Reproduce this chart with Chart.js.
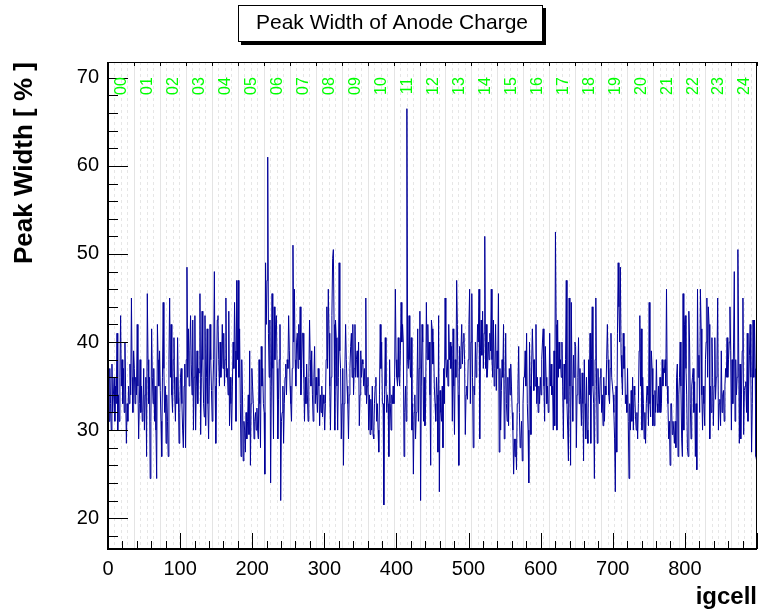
<!DOCTYPE html>
<html>
<head>
<meta charset="utf-8">
<script src="https://cdn.jsdelivr.net/npm/chart.js@4.4.1/dist/chart.umd.min.js"></script>
<style>
html,body{margin:0;padding:0;background:#fff;}
#c{display:block;}
</style>
</head>
<body>
<canvas id="c" width="763" height="611"></canvas>
<script>
// ---- data: peak width [%] per igcell ----
const pw000 = [36,31,37,33,30,37.5,32,34,36,31,35,33,41,30,34,31,36,43,35,38,33,37,32,40,34,28.5,33,31,35,33,37.5,34,45,36,32,39,37,33,36,34,42,35,29,33,38,32,35,31,32,37,30,34,36,27,45.5,38,33,36,24.5,31,41.5,36,33,37,31,35,30,24.5,42,38,35,39,34.5,31,27,36,44.5,37,32,35,28.5,34,31,27,38,45,36,42,34,32];
const pw090 = [38,40.5,34,31,36,33,40.5,35,28.5,32,36,37,33,30,28,35,37.5,28,38,48.5,36,41.5,35,39,43,37.5,34,42.5,30,36,43,30,35,39,33,37,36.5,45.5,29.5,36,43.5,38,33,31.5,43,30.5,36,41.5,33,29,35,42,38,34.5,31,34.5,38,48,35,28.5,36,42.5,43,38,35,40,36,37.5,42,37,41,35,38,45,36,37,34,43.5,30.5,36,33,30,35,40,37,44.5,39,31,47,38];
const pw180 = [47,36,41.5,33,27,38,34,26.5,31,30,27.5,32,29,31,34,29.5,39,26,33,37,35,33,29,31,32,30,32.5,30,29,38,33,28,39.5,35,37,33,32,25,49,42,47,61,41,36,42.5,24,35,45.5,37,29,44,38,42,43,37,29,33.5,38,42,22,31,32,35,28.5,33,36,37.5,34,38,37,43,39,35,33,31,37,51,40,46,38,35,40,41,37,42,38,44,34,37,41];
const pw270 = [41,36,31,36,33,37.5,34,31,36,42.5,38,35,39,34,31,36,39.5,33,36,34,32,37,35,30.5,34,32,35,31.5,34,33,30,33,38,44,37,46,41,35,30,36,43,49.5,50.5,42,30,42.5,40.5,35,30,36,49,39,37,29,33,37,26,33,37,42,38,35,33,29,34,37,39.5,41,36,42,34,37,42,36,38,39,36,40,30.5,34,39,36,38,37.5,35,37,34,45,33,35];
const pw360 = [36,30,34,29.5,33.5,30,35,29.5,29,33,35,36,31,33,30,27.5,34,42,37,40,33,33,21.5,34,40.5,35,32,34,33,27,38,33,30,34,33,35,33,36,46,38,36,35,40.5,36,35,39,44.5,40,42,40,27,32,35,31,66.5,38,37,43,38,36,40.5,30,33,25,32,34,29,32,35,41.5,31,37,43.5,22,35,42,40,31,36,30.5,33,44.5,38,42,38,40,34,26,42.5,41.5];
const pw450 = [37.5,40,35,33,31,36,34,27.5,43,23,34.5,32,31,35,28,37,33,45,38,36,38,35,42,38,40,37,39.5,31,41.5,35,29.5,38,36,47,42,34,26,39.5,37,39,42,37.5,40,41,38,29.5,34,35,33.5,38,42,46,33,40,45.5,36,28,35,34,40,36,38,42,40,46,29,39,42.5,38.5,43.5,37,41,52,37,42,36,37,40,38,41,39,46,38,36,42.5,35,37,42,34.5,39];
const pw540 = [37,45.5,27.5,37,30,34.5,38,36,42,29,34,41,33,31,36,30.5,37,34,37.5,35,32,30,25,29,27,29,25.5,33,35,39.5,32,28,29,31,26.5,33,36,36,39,35,41,33,30,24,40,35,29.5,37.5,41.5,38,34.5,38,35,42,33,36,32,35,33,36,34,38,40,41.5,35,31,39.5,36,33,35,32,33,41,35,37.5,34,35,30,39,30.5,52.5,42,30,42.5,36,40,37,38,36,40];
const pw630 = [35,29,37.5,33.5,38,47,33,30,26.5,45,35,26,44.5,35,31,38.5,36,40,39.5,28,34,36,40.5,33,37,33.5,30.5,36.5,33,26.5,38,33,29,36,30,28.5,38,34,41,28.5,38,44,35,33,24.5,38,45,35,28.5,37,34,33,36,37,32,34,30.5,36,31,35,34,38,42,38,34,33,37,41,36,35,34,32,29,23,35,27.5,41,49,44,40,48.5,38.5,36,34,41,37,39.5,33,34,32];
const pw720 = [37,31,24.5,33,30,34.5,31,36,30,35,34,31.5,30,32,29,33,39,43,35,41.5,30,36,33,29,32,28.5,33,35,34,30.5,44.5,33,31.5,39,37,30.5,34,30.5,34.5,32,38,33,32,35,32,36,32,33,38,35,37,36.5,38,35,46,35,33,29,31,26,33,33,29.5,31,30,28.5,31,28,36,37.5,27,34,36,40,35,29,27,45.5,30,42,43,37,34,28,27,43.5,40,33,29,35];
const pw810 = [36,37,32,35.5,27,33,25.5,46,36,38.5,32,46,41.5,34,30,35,33,30.5,38,40,45,36,44,42,29,35,32,40.5,36,30.5,35,40.5,33.5,36,38,45,30,33,33.5,30.5,39,32,34,34.5,31,35,37,36,40.5,36,38,40,44,39,30,38,33,40,48,31,38,34,36,50.5,40,28.5,37.5,29,34,39,45,29.5,34.5,35,35.5,32,41,31,35,38.5,42,36,27.5,33,42.5,36,42.5,37,27,26.5];

const sectorLabels = ['00','01','02','03','04','05','06','07','08','09','10','11','12','13','14','15','16','17','18','19','20','21','22','23','24'];
const yTickValues = [20,30,40,50,60,70];
const xTickValues = [0,100,200,300,400,500,600,700,800];

const peakWidth = [].concat(pw000,pw090,pw180,pw270,pw360,pw450,pw540,pw630,pw720,pw810);
const points = peakWidth.map((v,i)=>({x:i+0.5,y:v}));

const CELLS_PER_SECTOR = 36;
const FONT = '"Liberation Sans", Arial, sans-serif';

const rootPlugin = {
  id:'rootStyle',
  beforeDatasetsDraw(chart){
    const {ctx, chartArea:a, scales:{x}} = chart;
    ctx.save();
    for(let c=9;c<900;c+=9){
      const px = Math.round(x.getPixelForValue(c))+0.5;
      ctx.beginPath();
      if(c%CELLS_PER_SECTOR===0){ctx.setLineDash([]);ctx.strokeStyle='#e4e4e4';}
      else {ctx.setLineDash([3,3]);ctx.strokeStyle='#e6e6e6';}
      ctx.lineWidth=1;
      ctx.moveTo(px,a.top);ctx.lineTo(px,a.bottom);ctx.stroke();
    }
    ctx.restore();
  },
  afterDraw(chart){
    const {ctx, chartArea:a, scales:{x,y}} = chart;
    ctx.save();
    ctx.setLineDash([]);
    ctx.strokeStyle='#000';
    ctx.lineWidth=1;
    ctx.strokeRect(a.left+0.5,a.top+0.5,a.right-a.left-1,a.bottom-a.top-1);
    ctx.lineWidth=2;
    ctx.beginPath();ctx.moveTo(a.left,a.top);ctx.lineTo(a.left,a.bottom);ctx.lineTo(a.right,a.bottom);ctx.stroke();
    ctx.lineWidth=1;
    for(let v=18;v<=71.8;v+=2){
      const py=Math.round(y.getPixelForValue(v))+0.5;
      const len = (v%10===0)?20:10;
      ctx.beginPath();ctx.moveTo(a.left,py);ctx.lineTo(a.left+len,py);ctx.stroke();
    }
    for(let v=0;v<=900;v+=20){
      const px=Math.round(x.getPixelForValue(v))+0.5;
      const len = (v%100===0)?16:8;
      ctx.beginPath();ctx.moveTo(px,a.bottom);ctx.lineTo(px,a.bottom-len);ctx.stroke();
    }
    for(let c=0;c<=900;c+=CELLS_PER_SECTOR){
      const px=Math.round(x.getPixelForValue(c))+0.5;
      ctx.beginPath();ctx.moveTo(px,a.top);ctx.lineTo(px,a.top+4);ctx.stroke();
    }
    ctx.fillStyle='#00ff00';
    ctx.font='16px '+FONT;
    ctx.textAlign='center';ctx.textBaseline='middle';
    sectorLabels.forEach((s,k)=>{
      const px=x.getPixelForValue(k*CELLS_PER_SECTOR+18);
      ctx.save();ctx.translate(px+1,86);ctx.rotate(-Math.PI/2);ctx.fillText(s,0,0);ctx.restore();
    });
    // title box
    ctx.fillStyle='#000';
    ctx.fillRect(241,8,305,37);
    ctx.fillStyle='#fff';
    ctx.fillRect(238,5,305,37);
    ctx.strokeRect(238.5,5.5,304,36);
    ctx.fillStyle='#000';
    ctx.font='21px '+FONT;
    ctx.textAlign='center';ctx.textBaseline='middle';
    ctx.fillText('Peak Width of Anode Charge',392,23);
    // y title
    ctx.font='bold 26px '+FONT;
    ctx.save();ctx.translate(25,a.top);ctx.rotate(-Math.PI/2);
    ctx.textAlign='right';ctx.textBaseline='middle';ctx.fillText('Peak Width [ % ]',0,0);ctx.restore();
    // x title
    ctx.font='bold 24px '+FONT;
    ctx.textAlign='right';ctx.textBaseline='middle';
    ctx.fillText('igcell',a.right,597);
    ctx.restore();
  }
};

new Chart(document.getElementById('c'),{
  type:'line',
  data:{datasets:[{data:points,borderColor:'#000099',borderWidth:1,pointRadius:0,tension:0,fill:false}]},
  options:{
    responsive:false,animation:false,devicePixelRatio:1,
    layout:{padding:{left:0,right:6,top:62,bottom:0}},
    plugins:{legend:{display:false},tooltip:{enabled:false},title:{display:false}},
    scales:{
      x:{type:'linear',min:0,max:900,
        afterFit(s){s.height=62;},
        afterBuildTicks(s){s.ticks=xTickValues.map(v=>({value:v}));},
        grid:{display:false,drawTicks:false},border:{display:false},
        ticks:{color:'#000',padding:8,maxRotation:0,autoSkip:false,font:{family:FONT,size:20}}},
      y:{type:'linear',min:16.5,max:71.8,
        afterFit(s){s.width=108;},
        afterBuildTicks(s){s.ticks=yTickValues.map(v=>({value:v}));},
        grid:{display:false,drawTicks:false},border:{display:false},
        ticks:{color:'#000',padding:9,font:{family:FONT,size:20}}}
    }
  },
  plugins:[rootPlugin]
});
</script>
</body>
</html>
